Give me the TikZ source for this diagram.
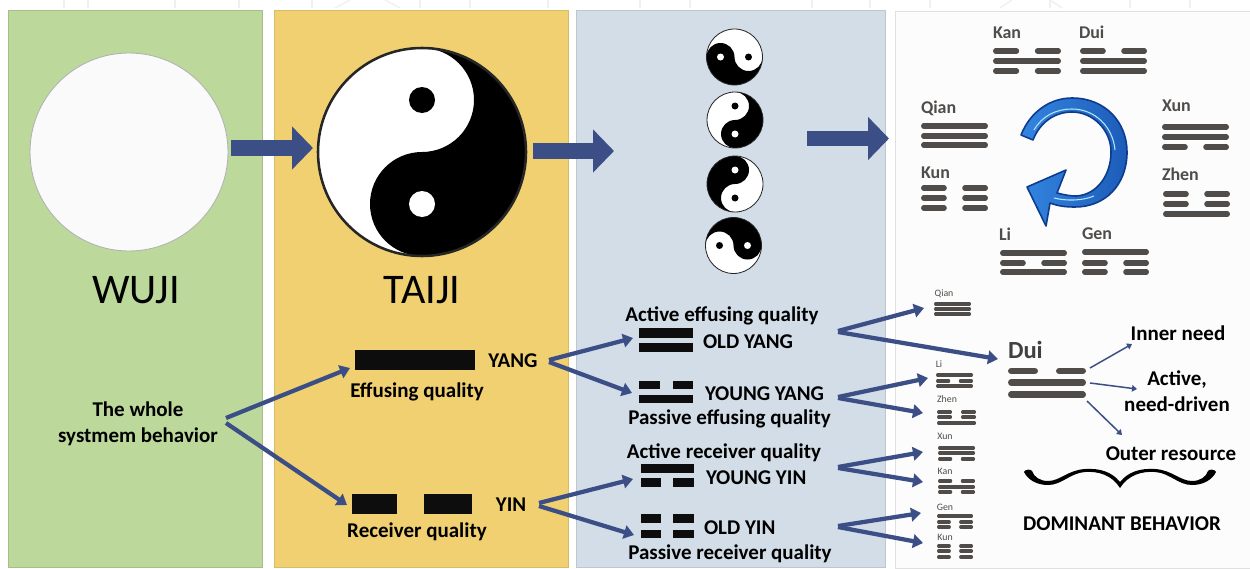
\documentclass[tikz,border=0pt]{standalone}
\usepackage{fontspec}
\setmainfont{Carlito}
\usetikzlibrary{arrows.meta,calc,shapes.geometric}
\definecolor{navy}{HTML}{3B4F86}
\definecolor{pgreen}{HTML}{BCD99B}
\definecolor{porange}{HTML}{F0D070}
\definecolor{pblue}{HTML}{D2DDE7}
\definecolor{pwhite}{HTML}{FBFCFB}
\definecolor{hexgray}{HTML}{4F4C4A}
\definecolor{ringlight}{HTML}{3485E0}
\definecolor{ringdark}{HTML}{1C5CB8}
\definecolor{ringedge}{HTML}{0D3B8E}
\tikzset{
  x=0.02cm,y=-0.02cm,
  panel/.style={rectangle,minimum width={#1*0.02cm},minimum height={557*0.02cm},inner sep=0pt,outer sep=0pt,line width=0.5pt},
  lab/.style={inner sep=0pt,outer sep=0pt,text=black,yshift=-0.02cm,font=\fontsize{11.95pt}{14.5pt}\selectfont\bfseries,align=center},
  biglab/.style={inner sep=0pt,outer sep=0pt,text=black,font=\fontsize{24pt}{28pt}\selectfont},
  hexlab/.style={inner sep=0pt,outer sep=0pt,text=hexgray,anchor=west,font=\fontsize{10.2pt}{12pt}\selectfont\bfseries},
  hexsmall/.style={inner sep=0pt,outer sep=0pt,text=hexgray,font=\fontsize{5.6pt}{7pt}\selectfont},
  qb/.style={rectangle,fill=black!95,inner sep=0pt,outer sep=0pt},
  arrA/.style={navy,line width=0.085cm,-{Triangle[length=0.2cm,width=0.27cm]}},
  arrB/.style={navy,line width=0.03cm,-{Triangle[length=0.1cm,width=0.13cm]}},
  arrC/.style={navy,line width=0.31cm,-{Triangle[length=0.42cm,width=0.84cm]}},
}
% quad bar node: name, x0, x1, y0, y1
\newcommand\qbar[5]{\node[qb,minimum width={(#3-#2)*0.02cm},minimum height={(#5-#4)*0.02cm}] (#1) at ({(#2+#3)/2},{(#4+#5)/2}) {};}
% hexagram strokes
\newcommand\barF[4]{\draw[hexgray,line cap=round,line width={#4*0.02cm}] ({#1+#4/2},#3) -- ({#2-#4/2},#3);}
\newcommand\barB[4]{\draw[hexgray,line cap=round,line width={#4*0.02cm}] ({#1+#4/2},#3) -- ({#1+0.385*(#2-#1)-#4/2},#3) ({#2-0.385*(#2-#1)+#4/2},#3) -- ({#2-#4/2},#3);}
\newcommand\hexa[9]{\csname bar#7\endcsname{#1}{#2}{#3}{#6}\csname bar#8\endcsname{#1}{#2}{#4}{#6}\csname bar#9\endcsname{#1}{#2}{#5}{#6}}
% yin-yang: name, x, y, r, rot
\newcommand\yinyang[5]{%
 \node[circle,minimum size={2*#4*0.02cm},inner sep=0pt,outer sep=0pt] (#1) at (#2,#3) {};
 \begin{scope}[shift={(#2,#3)},rotate=#5,x={#4*0.02cm},y={#4*0.02cm}]
  \fill[white] (0,0) circle (1);
  \fill[black] (0,1) arc (90:-90:1) arc (-90:-270:0.5) arc (-90:90:0.5) -- cycle;
  \fill[black] (0,0.5) circle (0.125);
  \fill[white] (0,-0.5) circle (0.125);
  \draw[black!85,line width={#4*0.013pt+0.1pt}] (0,0) circle (1);
 \end{scope}}
\begin{document}
\begin{tikzpicture}
\useasboundingbox (0,0) rectangle (1250,568);
\fill[white] (0,0) rectangle (1250,568);
% faint remains of a watermark along the top edge
\foreach \wx in {64,88,175,239,312,420,470,548,640,690,812,870,930,1050,1130,1190}
  \draw[black!6,line width=0.8pt] (\wx,0) -- (\wx,8);
\draw[black!6,line width=0.8pt] (335,8) -- (350,0) (400,8) -- (385,0) (1000,8) -- (1012,0) (1062,8) -- (1050,0);
% panels
\node[panel=254,fill=pgreen,draw=pgreen!88!black] (p1) at (135,288.5) {};
\node[panel=294,fill=porange,draw=porange!90!black] (p2) at (421,288.5) {};
\node[panel=309,fill=pblue,draw=pblue!90!black] (p3) at (730.5,288.5) {};
\node[panel=360,fill=pwhite,draw=black!12] (p4) at (1075,289.5) {};
% wuji and taiji
\node[circle,minimum size={198*0.02cm},inner sep=0pt,outer sep=0pt,fill=black!2,draw=black!30,line width=0.5pt] (wuji) at (129,152) {};
\yinyang{taiji}{422}{152}{104}{0}
\node[biglab] (wujit) at (136,290) {WUJI};
\node[biglab] (taijit) at (422,290) {TAIJI};
\yinyang{yya}{734.5}{57}{28}{-90}
\yinyang{yyb}{735}{120}{28}{0}
\yinyang{yyc}{735}{184}{28}{180}
\yinyang{yyd}{733.5}{245.5}{28}{90}
% left texts
\node[lab] (whole) at (138,423) {The whole\\systmem behavior};
\qbar{yangbar}{355}{475}{350}{370}
\qbar{yinbarL}{352}{397}{494}{514}
\qbar{yinbarR}{424}{472}{494}{514}
\node[lab] (yanglab) at (513,360) {YANG};
\node[lab] (yinlab) at (511,504) {YIN};
\node[lab] (effq) at (417,391) {Effusing quality};
\node[lab] (recq) at (417,531) {Receiver quality};
% four images
\qbar{oya}{639}{693}{328}{338}
\qbar{oyb}{639}{693}{343}{352}
\qbar{yya1}{639}{660}{381}{389}
\qbar{yya2}{673}{693}{381}{389}
\qbar{yyab}{639}{693}{395}{403}
\qbar{yyia}{641}{694}{464}{473}
\qbar{yyib1}{641}{661}{478}{487}
\qbar{yyib2}{673}{694}{478}{487}
\qbar{oyi1}{641}{661}{514}{523}
\qbar{oyi2}{673}{694}{514}{523}
\qbar{oyi3}{641}{661}{530}{538}
\qbar{oyi4}{673}{694}{530}{538}
\node[lab] (aeq) at (722,315) {Active effusing quality};
\node[lab,anchor=west] (oldyang) at (703,341) {OLD YANG};
\node[lab,anchor=west] (youngyang) at (705,393) {YOUNG YANG};
\node[lab] (peq) at (729.5,418) {Passive effusing quality};
\node[lab] (arq) at (724,452) {Active receiver quality};
\node[lab,anchor=west] (youngyin) at (706,477) {YOUNG YIN};
\node[lab,anchor=west] (oldyin) at (704,527) {OLD YIN};
\node[lab] (prq) at (730,553) {Passive receiver quality};
% octagon of trigrams
\node[hexlab] (bKan) at (993,33) {Kan};
\hexa{993}{1061}{51}{61}{71}{5.5}{B}{F}{B}
\node[hexlab] (bDui) at (1079,32) {Dui};
\hexa{1080}{1147}{51}{61}{71}{5.5}{B}{F}{F}
\node[hexlab] (bQian) at (921,108) {Qian};
\hexa{921}{988}{126}{136}{145}{5.5}{F}{F}{F}
\node[hexlab] (bKun) at (921,173) {Kun};
\hexa{921}{988}{188}{198}{208}{5.5}{B}{B}{B}
\node[hexlab] (bXun) at (1162,106) {Xun};
\hexa{1162}{1229}{127}{137}{147}{5.5}{F}{F}{B}
\node[hexlab] (bZhen) at (1162,174) {Zhen};
\hexa{1163}{1230}{194}{204}{214}{5.5}{B}{B}{F}
\node[hexlab] (bLi) at (999,234) {Li};
\hexa{1000}{1067}{253}{263}{272}{5.5}{F}{B}{F}
\node[hexlab] (bGen) at (1082,234) {Gen};
\hexa{1082}{1149}{252}{263}{272}{5.5}{F}{B}{B}
% blue rotation arrow
\shadedraw[left color=ringlight,right color=ringdark,draw=ringedge,line width=0.9pt,line join=round]
  (1021,135) .. controls (1030,112) and (1050,98) .. (1072,98)
  .. controls (1105,98) and (1127,122) .. (1127,152)
  .. controls (1127,185) and (1105,207) .. (1075,207)
  .. controls (1065,207) and (1058,206) .. (1050,203)
  -- (1046,226) -- (1027,187) -- (1066,170) -- (1057,193)
  .. controls (1065,195) and (1070,196) .. (1076,196)
  .. controls (1097,195) and (1111,175) .. (1111,152)
  .. controls (1111,130) and (1093,112) .. (1072,112)
  .. controls (1055,112) and (1040,122) .. (1033,140)
  -- cycle;
\draw[white!70!cyan,line width=0.6pt] (1034,130) .. controls (1042,116) and (1056,109) .. (1072,109)
  .. controls (1095,109) and (1113,127) .. (1115,150);
\draw[white!70!cyan,line width=0.6pt] (1054,198) .. controls (1066,201) and (1082,201) .. (1094,196);
% small trigrams
\node[hexsmall] (sQian) at (944,294) {Qian};
\hexa{934}{971}{304}{309}{314}{3.2}{F}{F}{F}
\node[hexsmall] (sLi) at (939,364) {Li};
\hexa{936}{973}{375}{381}{386}{3.2}{F}{B}{F}
\node[hexsmall] (sZhen) at (947,399) {Zhen};
\hexa{937}{976}{412}{417}{423}{3.2}{B}{B}{F}
\node[hexsmall] (sXun) at (945,436) {Xun};
\hexa{938}{975}{448}{453}{459}{3.2}{F}{F}{B}
\node[hexsmall] (sKan) at (945,471) {Kan};
\hexa{938}{975}{481}{487}{492}{3.2}{B}{F}{B}
\node[hexsmall] (sGen) at (945,507) {Gen};
\hexa{937}{973}{516}{522}{527}{3.2}{F}{B}{B}
\node[hexsmall] (sKun) at (945,537) {Kun};
\hexa{937}{973}{546}{551}{557}{3.2}{B}{B}{B}
% dui detail
\node[inner sep=0pt,outer sep=0pt,text=black!75,anchor=west,font=\fontsize{14pt}{16pt}\selectfont\bfseries] (dui) at (1008,350) {Dui};
\hexa{1008}{1086}{371}{382.5}{394.5}{6.5}{B}{F}{F}
\node[lab] (inner) at (1178,332) {Inner need};
\node[lab] (active) at (1177,390) {Active,\\need-driven};
\node[lab] (outer) at (1171,453) {Outer resource};
\node[lab] (dominant) at (1122,523) {DOMINANT BEHAVIOR};
% brace
\fill[black] (1024,472) .. controls (1025,469) and (1031,469) .. (1032,471)
  .. controls (1034,477) and (1040,481) .. (1048,481)
  .. controls (1060,481) and (1068,470) .. (1085,469)
  .. controls (1100,468) and (1112,472) .. (1120,482)
  .. controls (1128,472) and (1140,468) .. (1155,469)
  .. controls (1172,470) and (1180,481) .. (1192,481)
  .. controls (1200,481) and (1206,477) .. (1208,471)
  .. controls (1209,469) and (1215,469) .. (1216,472)
  .. controls (1212,480) and (1203,485) .. (1192,485)
  .. controls (1178,485) and (1170,473) .. (1155,472)
  .. controls (1142,471) and (1128,475) .. (1120,488)
  .. controls (1112,475) and (1098,471) .. (1085,472)
  .. controls (1070,473) and (1062,485) .. (1048,485)
  .. controls (1037,485) and (1028,480) .. (1024,472) -- cycle;
% big arrows
\draw[arrC] ($(wuji.center)+(102,-4)$) -- ($(taiji.center)+(-109,-4)$);
\draw[arrC] ($(taiji.center)+(111,-1)$) -- ($(yyb.center)+(-121,31)$);
\draw[arrC] ($(yyb.center)+(72,18.5)$) -- ($(p4.west)+(-6,-151)$);
% connectors
\draw[arrA] ($(whole.center)+(88,-6)$) -- ($(yangbar.center)+(-65,8)$);
\draw[arrA] ($(whole.center)+(88,-1)$) -- ($(yinbarL.center)+(-27.5,1)$);
\draw[arrA] ($(yanglab.center)+(36,-1)$) -- ($(oya.center)+(-33,5)$);
\draw[arrA] ($(yanglab.center)+(36,1)$) -- ($(yyab.center)+(-34,-6)$);
\draw[arrA] ($(yinlab.center)+(28,-2)$) -- ($(yyia.center)+(-34.5,10.5)$);
\draw[arrA] ($(yinlab.center)+(28,1)$) -- ($(oyi3.center)+(-17,1)$);
\draw[arrA] ($(oldyang.west)+(135,-11)$) -- ($(sQian.center)+(-20,14)$);
\draw[arrA] ($(oldyang.west)+(135,-10)$) -- ($(dui.west)+(-10,9)$);
\draw[arrA] ($(youngyang.west)+(133,3)$) -- ($(sLi.center)+(-11,14)$);
\draw[arrA] ($(youngyang.west)+(133,4)$) -- ($(sZhen.center)+(-24,14)$);
\draw[arrA] ($(youngyin.west)+(132,-11)$) -- ($(sXun.center)+(-22,16)$);
\draw[arrA] ($(youngyin.west)+(132,-10)$) -- ($(sKan.center)+(-22,11)$);
\draw[arrA] ($(oldyin.west)+(134,-2)$) -- ($(sGen.center)+(-24,6)$);
\draw[arrA] ($(oldyin.west)+(134,-1)$) -- ($(sKun.center)+(-22,6)$);
\draw[arrB] ($(dui.west)+(82,18)$) -- ($(inner.center)+(-46,11)$);
\draw[arrB] ($(dui.west)+(82,33)$) -- ($(active.center)+(-40,-2)$);
\draw[arrB] ($(dui.west)+(79,51)$) -- ($(outer.center)+(-49,-19)$);
\end{tikzpicture}
\end{document}
